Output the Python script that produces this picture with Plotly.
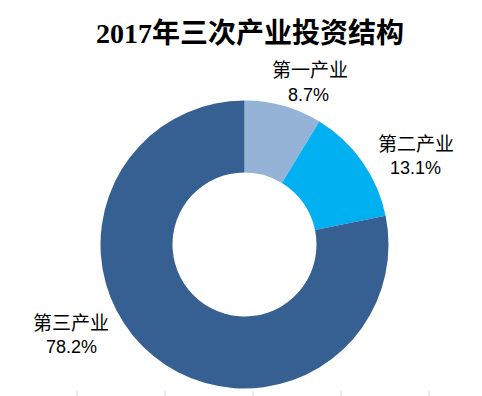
import plotly.graph_objects as go

title = "2017年三次产业投资结构"
categories = ["第一产业", "第二产业", "第三产业"]
values = [8.7, 13.1, 78.2]
colors = ["#95B3D7", "#00B0F0", "#376092"]

W, H = 482, 396
OFF = 8  # default page body margin in the browser
cx, cy, R = 244.5 - OFF, 244.5 - OFF, 144.0

fig = go.Figure(go.Pie(
    labels=categories,
    values=values,
    hole=0.5,
    sort=False,
    direction="clockwise",
    rotation=0,
    marker=dict(colors=colors, line=dict(width=0)),
    textinfo="none",
    hoverinfo="label+percent",
    showlegend=False,
    domain=dict(x=[(cx - R) / W, (cx + R) / W],
                y=[(H - cy - R) / H, (H - cy + R) / H]),
))


def px(x, y):
    return (x - OFF) / W, 1 - (y - OFF) / H


# (name x, name y, pct x, pct y) in screen pixels
label_pos = [(310, 69, 308, 95), (416, 143, 415.5, 168), (71, 321, 71, 347)]
annotations = []
for cat, v, (nx, ny, vx, vy) in zip(categories, values, label_pos):
    x, y = px(nx, ny)
    annotations.append(dict(
        x=x, y=y, xref="paper", yref="paper", text=cat, showarrow=False,
        font=dict(family="Noto Sans CJK SC", size=19, color="#000000"),
        xanchor="center", yanchor="middle"))
    x, y = px(vx, vy)
    annotations.append(dict(
        x=x, y=y, xref="paper", yref="paper", text=f"{v:.1f}%", showarrow=False,
        font=dict(family="Liberation Sans", size=18, color="#000000"),
        xanchor="center", yanchor="middle"))

x, y = px(250, 33)
annotations.append(dict(
    x=x, y=y, xref="paper", yref="paper",
    text=f"<b>{title}</b>", showarrow=False,
    font=dict(family="Liberation Serif, Noto Sans CJK SC", size=28, color="#000000"),
    xanchor="center", yanchor="middle",
))

# faint tick marks along bottom edge
shapes = []
for tx in [77, 165, 253, 341, 429]:
    x0, y0 = px(tx, 396)
    _, y1 = px(tx, 391)
    shapes.append(dict(type="line", xref="paper", yref="paper",
                       x0=x0, x1=x0, y0=y0, y1=y1,
                       line=dict(color="#D9D9D9", width=1)))

fig.update_layout(
    width=W, height=H,
    margin=dict(l=0, r=0, t=0, b=0),
    paper_bgcolor="white", plot_bgcolor="white",
    annotations=annotations,
    shapes=shapes,
)

fig.write_html("out.html")
